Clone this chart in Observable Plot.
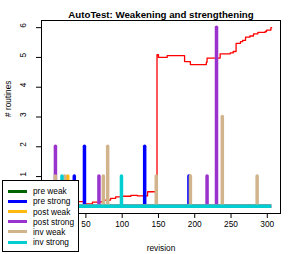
<!DOCTYPE html>
<html><head><meta charset="utf-8">
<script src="https://cdn.jsdelivr.net/npm/d3@7"></script>
<script src="https://cdn.jsdelivr.net/npm/@observablehq/plot@0.6"></script>
<style>
body{margin:0;background:#fff;}
#wrap{position:relative;width:294px;height:254px;font-family:"Liberation Sans",Arial,Helvetica,sans-serif;}
#legend{position:absolute;left:2px;top:180px;width:75px;height:70px;border:1px solid #000;background:#fff;}
.item{position:absolute;left:0;height:10px;width:75px;}
.sw{position:absolute;left:5px;top:3.5px;width:19px;height:3px;}
.lab{position:absolute;left:30px;top:0;line-height:10px;font-size:8.3px;color:#000;white-space:nowrap;}
</style></head><body><div id="wrap"></div>
<script>
const title = "AutoTest: Weakening and strengthening";
const xLabel = "revision";
const yLabel = "# routines";
const xTicks = [50, 100, 150, 200, 250, 300];
const yTicks = [1, 2, 3, 4, 5, 6];
const revFirst = 1, revLast = 306;

const seriesNames = ["pre weak", "pre strong", "post weak", "post strong", "inv weak", "inv strong"];
const seriesColors = ["#006400", "#0000FF", "#FFB90F", "#9A32CD", "#D2B48C", "#00CED1"];

const preWeakRev = [], preWeakVal = [];
const preStrongRev = [34, 48, 131, 192], preStrongVal = [1, 2, 2, 1];
const postWeakRev = [25], postWeakVal = [1];
const postStrongRev = [8, 68, 217, 230], postStrongVal = [2, 1, 1, 6];
const invWeakRev = [8, 21, 74, 80, 147, 194, 238, 286], invWeakVal = [1, 1, 1, 2, 1, 1, 3, 1];
const invStrongRev = [17, 99], invStrongVal = [1, 1];

const totalRev = [1, 40, 47, 59, 71, 75, 84, 91, 98, 112, 121, 135, 148, 150, 162, 186, 194, 216, 217, 235, 249, 253, 257, 263, 266, 270, 276, 281, 287, 297, 299, 305, 306];
const totalVal = [0.16, 0.16, 0.08, 0.14, 0.16, 0.21, 0.27, 0.32, 0.34, 0.37, 0.35, 0.49, 5.09, 5.0, 5.06, 4.86, 4.76, 4.84, 4.98, 5.12, 5.15, 5.2, 5.47, 5.53, 5.57, 5.68, 5.72, 5.79, 5.84, 5.87, 5.92, 6.0, 6.0];

const seriesRev = [preWeakRev, preStrongRev, postWeakRev, postStrongRev, invWeakRev, invStrongRev];
const seriesVal = [preWeakVal, preStrongVal, postWeakVal, postStrongVal, invWeakVal, invStrongVal];

const totalTable = totalRev.map((r, i) => ({rev: r, val: totalVal[i]}));

const seriesMarks = [];
seriesNames.forEach((name, k) => {
  const table = seriesRev[k].map((r, i) => ({rev: r, val: seriesVal[k][i]}));
  seriesMarks.push(Plot.ruleY([0], {x1: revFirst, x2: revLast, stroke: seriesColors[k], strokeWidth: 3.5}));
  seriesMarks.push(Plot.ruleX(table, {x: "rev", y1: 0, y2: "val", stroke: seriesColors[k], strokeWidth: 3.5, strokeLinecap: "round"}));
});

const font = '"Liberation Sans", Arial, Helvetica, sans-serif';
const chart = Plot.plot({
  width: 294, height: 254,
  marginLeft: 41, marginRight: 14, marginTop: 20, marginBottom: 41,
  x: {domain: [-11.2, 318.2]},
  y: {domain: [-0.24, 6.24]},
  style: {fontFamily: font, fontSize: "8px", background: "white", color: "black", overflow: "visible"},
  marks: [
    Plot.line(totalTable, {x: "rev", y: "val", stroke: "#FF0000", strokeWidth: 1.3, curve: "step-after"}),
    ...seriesMarks,
    Plot.frame({stroke: "black", strokeWidth: 1}),
    Plot.axisX({ticks: xTicks, tickSize: 5, tickPadding: 3, label: null, fontSize: 8.3}),
    Plot.axisY({ticks: yTicks, tickSize: 5, tickFormat: () => "", label: null}),
    Plot.text(yTicks, {y: d => d, text: d => String(d), frameAnchor: "left", dx: -18, rotate: -90, fontSize: 8.3}),
    Plot.text([title], {frameAnchor: "top", dy: -9, text: d => d, fontWeight: "bold", fontSize: 9.7}),
    Plot.text([xLabel], {frameAnchor: "bottom", dy: 37, text: d => d, fontSize: 8.3}),
    Plot.text([yLabel], {frameAnchor: "left", dx: -33, rotate: -90, text: d => d, fontSize: 8.3})
  ]
});

const wrap = document.getElementById("wrap");
wrap.appendChild(chart);
const legend = document.createElement("div");
legend.id = "legend";
seriesNames.forEach((name, i) => {
  const item = document.createElement("div");
  item.className = "item";
  item.style.top = (10.3 + i * 10.15 - 5) + "px";
  const sw = document.createElement("div");
  sw.className = "sw";
  sw.style.background = seriesColors[i];
  const lab = document.createElement("div");
  lab.className = "lab";
  lab.textContent = name;
  item.appendChild(sw);
  item.appendChild(lab);
  legend.appendChild(item);
});
wrap.appendChild(legend);
</script></body></html>
